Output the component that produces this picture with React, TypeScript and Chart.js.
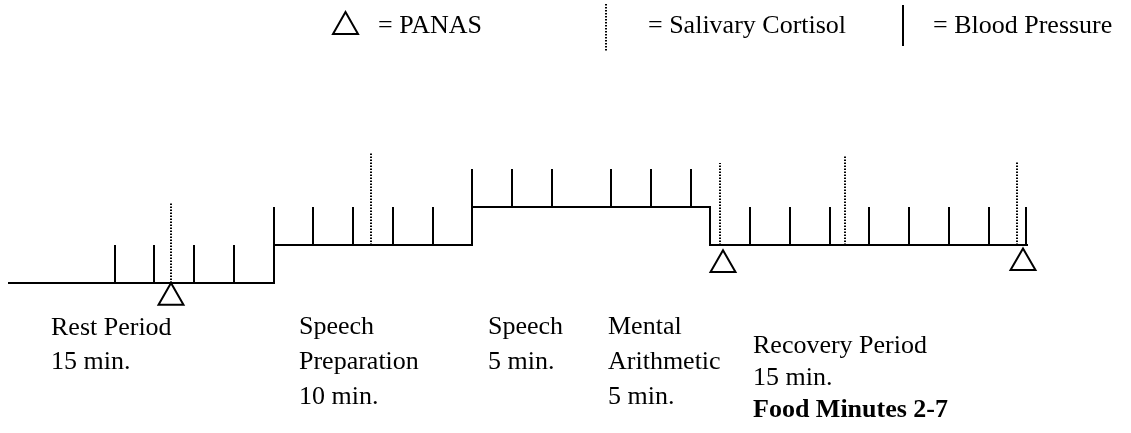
import React, { useEffect, useRef } from "react";
import { Chart, registerables } from "chart.js";

Chart.register(...registerables);

// ---- Data (schematic timeline units on x, step levels on y) ----
const stepX = [8, 274, 472, 710, 1028]; // phase boundaries
const stepLevels = [0, 1, 2, 1]; // level of each phase segment
const bloodPressureX = [
  115, 154, 194, 234,
  274, 313, 353, 393, 433,
  472, 512, 552, 611, 651, 691,
  750, 790, 830, 869, 909, 949, 989, 1026,
];
const cortisolX = [171, 371, 720, 845, 1017];
const cortisolTop = [2.13, 3.42, 3.16, 3.34, 3.21];
const panasX = [171, 723, 1023];
const panasY = [-0.38, 0.48, 0.53];

const phaseLabels: string[][] = [
  ["Rest Period", "15 min."],
  ["Speech", "Preparation", "10 min."],
  ["Speech", "5 min."],
  ["Mental", "Arithmetic", "5 min."],
  ["Recovery Period", "15 min."],
];
const foodNote = "Food Minutes 2-7";
const legendLabels = ["= PANAS", "= Salivary Cortisol", "= Blood Pressure"];

// ---- Layout ----
const W = 1131;
const H = 433;
const BASE_PX = 283;
const LEVEL_PX = 38;
const labelLayout = [
  { x: 51, y: 335, dy: 34 },
  { x: 299, y: 334, dy: 35 },
  { x: 488, y: 334, dy: 35 },
  { x: 608, y: 334, dy: 35 },
  { x: 753, y: 353, dy: 32 },
];
const FONT = '"Liberation Serif", "Times New Roman", serif';

function levelAt(x: number): number {
  let lvl = stepLevels[0];
  for (let i = 0; i < stepLevels.length; i++) {
    if (stepX[i] <= x) lvl = stepLevels[i];
  }
  return lvl;
}

export default function App() {
  const ref = useRef<HTMLCanvasElement | null>(null);

  useEffect(() => {
    if (!ref.current) return;

    const stepPts: { x: number; y: number | null }[] = [];
    for (let i = 0; i < stepLevels.length; i++) {
      stepPts.push({ x: stepX[i], y: stepLevels[i] });
      stepPts.push({ x: stepX[i + 1], y: stepLevels[i] });
    }

    const bpPts: { x: number; y: number | null }[] = [];
    bloodPressureX.forEach((x) => {
      const l = levelAt(x);
      bpPts.push({ x, y: l }, { x, y: l + 1 }, { x, y: null });
    });

    const cortPts: { x: number; y: number | null }[] = [];
    cortisolX.forEach((x, i) => {
      cortPts.push({ x, y: levelAt(x) }, { x, y: cortisolTop[i] }, { x, y: null });
    });

    const panasPts = panasX.map((x, i) => ({ x, y: panasY[i] }));

    const textPlugin = {
      id: "texts",
      afterDraw(chart: any) {
        const ctx = chart.ctx as CanvasRenderingContext2D;
        ctx.save();
        ctx.fillStyle = "#000";
        ctx.textBaseline = "alphabetic";
        ctx.textAlign = "left";
        ctx.font = `26px ${FONT}`;
        phaseLabels.forEach((lines, i) => {
          const L = labelLayout[i];
          lines.forEach((t, j) => ctx.fillText(t, L.x, L.y + j * L.dy));
        });
        const last = labelLayout[4];
        ctx.font = `bold 26px ${FONT}`;
        ctx.fillText(foodNote, last.x, last.y + phaseLabels[4].length * last.dy);

        // legend
        ctx.font = `26px ${FONT}`;
        ctx.fillText(legendLabels[0], 378, 33);
        ctx.fillText(legendLabels[1], 648, 33);
        ctx.fillText(legendLabels[2], 933, 33);
        ctx.strokeStyle = "#000";
        ctx.lineWidth = 2;
        // triangle
        ctx.beginPath();
        ctx.moveTo(345.5, 12);
        ctx.lineTo(358, 34);
        ctx.lineTo(333, 34);
        ctx.closePath();
        ctx.stroke();
        // dotted
        ctx.setLineDash([1.5, 1.5]);
        ctx.beginPath();
        ctx.moveTo(606, 4);
        ctx.lineTo(606, 52);
        ctx.stroke();
        ctx.setLineDash([]);
        ctx.beginPath();
        ctx.moveTo(903, 5);
        ctx.lineTo(903, 46);
        ctx.stroke();
        ctx.restore();
      },
    };

    const chart = new Chart(ref.current, {
      type: "line",
      data: {
        datasets: [
          {
            label: "Stress protocol",
            data: stepPts,
            borderColor: "#000",
            borderWidth: 2,
            pointRadius: 0,
            tension: 0,
          },
          {
            label: "Blood Pressure",
            data: bpPts,
            borderColor: "#000",
            borderWidth: 2,
            pointRadius: 0,
            spanGaps: false,
          },
          {
            label: "Salivary Cortisol",
            data: cortPts,
            borderColor: "#000",
            borderWidth: 2,
            borderDash: [1.5, 1.5],
            pointRadius: 0,
            spanGaps: false,
          },
          {
            label: "PANAS",
            data: panasPts,
            showLine: false,
            pointStyle: "triangle",
            pointRadius: 14.4,
            pointBorderWidth: 2,
            pointBorderColor: "#000",
            pointBackgroundColor: "rgba(255,255,255,1)",
          },
        ] as any,
      },
      options: {
        animation: false,
        responsive: false,
        maintainAspectRatio: false,
        layout: { padding: 0, autoPadding: false },
        events: [],
        plugins: {
          legend: { display: false },
          tooltip: { enabled: false },
          title: { display: false },
        },
        scales: {
          x: { type: "linear", min: 0, max: W, display: false },
          y: {
            type: "linear",
            min: -(H - BASE_PX) / LEVEL_PX,
            max: BASE_PX / LEVEL_PX,
            display: false,
          },
        },
      },
      plugins: [textPlugin],
    });

    return () => chart.destroy();
  }, []);

  return (
    <div style={{ position: "absolute", left: 0, top: 0, width: W, height: H, background: "#fff" }}>
      <canvas ref={ref} width={W} height={H} style={{ width: W, height: H, display: "block" }} />
    </div>
  );
}
